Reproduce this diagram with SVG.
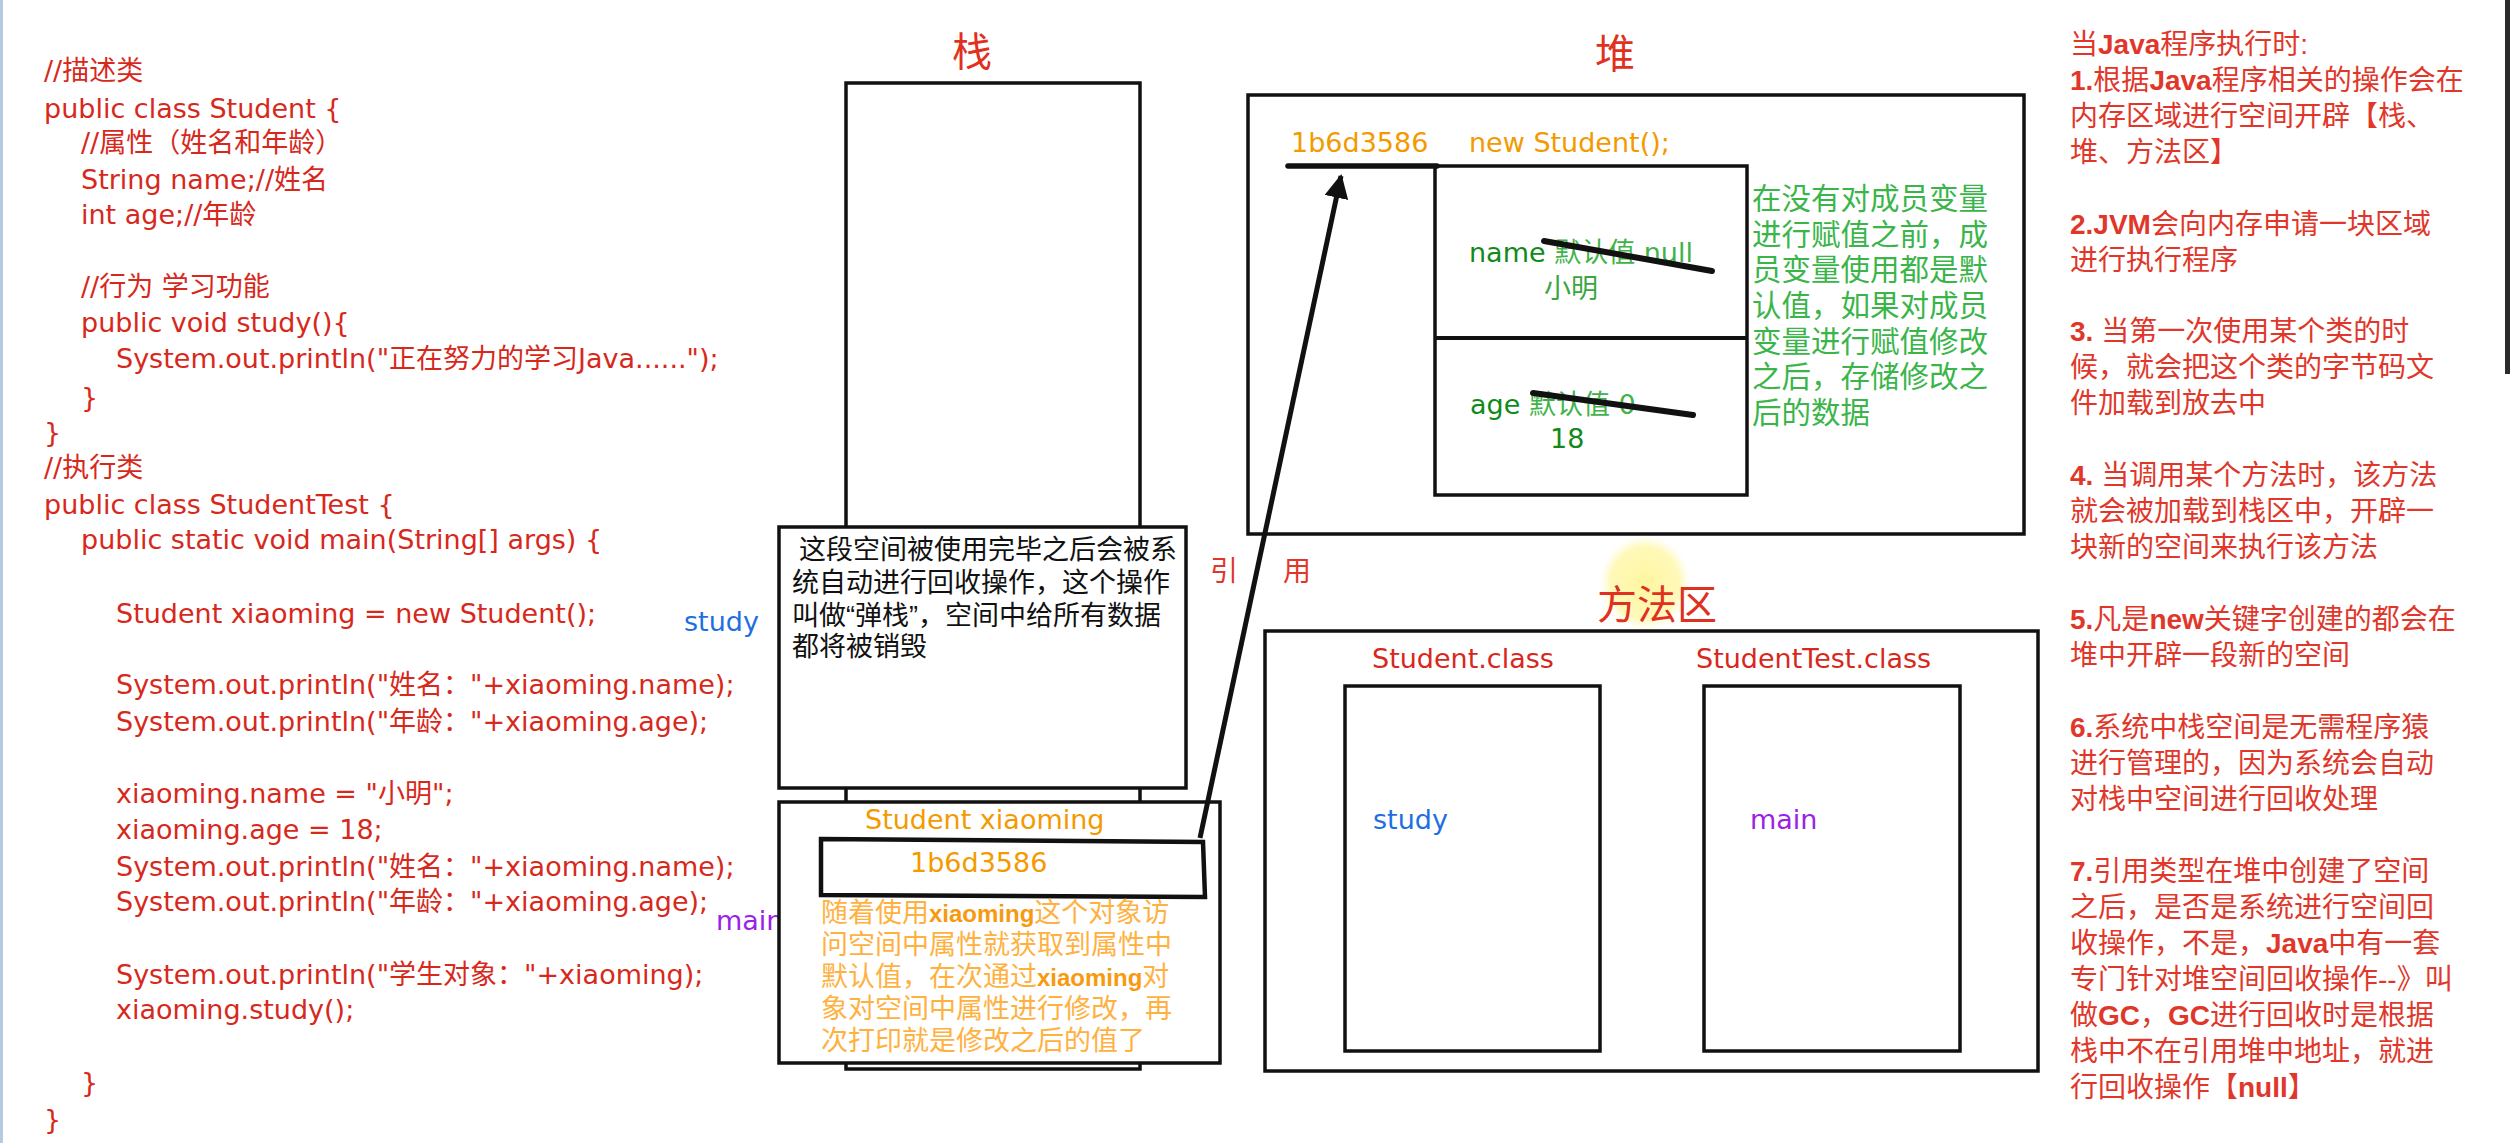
<svg xmlns="http://www.w3.org/2000/svg" width="2510" height="1143" viewBox="0 0 2510 1143">
<style>
.code{font-family:"DejaVu Sans","Noto Sans CJK SC",sans-serif;font-size:27px;fill:#d7281c}
.lat{font-family:"DejaVu Sans","Noto Sans CJK SC",sans-serif;font-size:27px}
.cjk{font-family:"Liberation Sans","Noto Sans CJK SC",sans-serif}
.note{font-family:"Liberation Sans","Noto Sans CJK SC",sans-serif;font-size:28px;fill:#e0372a}
.b{font-family:"Liberation Sans","Noto Sans CJK SC",sans-serif;font-weight:bold}
.box{fill:#fff;stroke:#111;stroke-width:3.5}
.title{font-family:"Liberation Serif","Noto Sans CJK SC",serif;font-size:40px;fill:#e0301e;text-anchor:middle}
.strike{stroke:#111;stroke-width:6;stroke-linecap:round}
</style>
<defs>
<marker id="arrow" markerUnits="userSpaceOnUse" markerWidth="30" markerHeight="30" refX="22" refY="12" orient="auto">
<path d="M0,0 L24,12 L0,24 Z" fill="#111"/>
</marker>
<radialGradient id="glow">
<stop offset="0" stop-color="#fff59a" stop-opacity="0.95"/>
<stop offset="0.75" stop-color="#fff7a8" stop-opacity="0.8"/>
<stop offset="1" stop-color="#fffbd0" stop-opacity="0"/>
</radialGradient>
</defs>
<rect x="0" y="0" width="2510" height="1143" fill="#fff"/>
<line x1="1.5" y1="0" x2="1.5" y2="1143" stroke="#b5cbe3" stroke-width="3"/>
<rect x="2505" y="0" width="5" height="374" fill="#2b2b2b"/>

<g id="code">
<text class="code" x="44" y="80">//描述类</text>
<text class="code" x="44" y="118">public class Student {</text>
<text class="code" x="81" y="152">//属性（姓名和年龄）</text>
<text class="code" x="81" y="189">String name;//姓名</text>
<text class="code" x="81" y="224">int age;//年龄</text>
<text class="code" x="81" y="296">//行为 学习功能</text>
<text class="code" x="81" y="332">public void study(){</text>
<text class="code" x="116" y="368">System.out.println("正在努力的学习Java......");</text>
<text class="code" x="81" y="407">}</text>
<text class="code" x="44" y="442">}</text>
<text class="code" x="44" y="477">//执行类</text>
<text class="code" x="44" y="514">public class StudentTest {</text>
<text class="code" x="81" y="549">public static void main(String[] args) {</text>
<text class="code" x="116" y="623">Student xiaoming = new Student();</text>
<text class="code" x="116" y="694">System.out.println("姓名："+xiaoming.name);</text>
<text class="code" x="116" y="731">System.out.println("年龄："+xiaoming.age);</text>
<text class="code" x="116" y="803">xiaoming.name = "小明";</text>
<text class="code" x="116" y="839">xiaoming.age = 18;</text>
<text class="code" x="116" y="876">System.out.println("姓名："+xiaoming.name);</text>
<text class="code" x="116" y="911">System.out.println("年龄："+xiaoming.age);</text>
<text class="code" x="116" y="984">System.out.println("学生对象："+xiaoming);</text>
<text class="code" x="116" y="1019">xiaoming.study();</text>
<text class="code" x="81" y="1092">}</text>
<text class="code" x="44" y="1129">}</text>
<text class="lat" x="684" y="631" fill="#1f6fe0">study</text>
<text class="lat" x="716" y="930" fill="#9a22e8">main</text>
</g>

<g id="stack">
<text class="title" x="972" y="66">栈</text>
<rect class="box" x="846" y="83" width="294" height="986"/>
</g>

<g id="stack-frame-study">
<rect class="box" x="779" y="527" width="407" height="261"/>
<text class="cjk" font-size="27" fill="#111">
<tspan x="799" y="559">这段空间被使用完毕之后会被系</tspan>
<tspan x="792" y="592">统自动进行回收操作，这个操作</tspan>
<tspan x="792" y="625">叫做“弹栈”，空间中给所有数据</tspan>
<tspan x="792" y="656">都将被销毁</tspan>
</text>
</g>

<g id="stack-frame-main">
<rect class="box" x="779" y="802" width="441" height="261"/>
<text class="lat" x="865" y="829" fill="#f39a00">Student xiaoming</text>
<polygon points="821,839 1203,842 1205,897 821,895" fill="#fff" stroke="#111" stroke-width="4.5"/>
<text class="lat" x="910" y="872" fill="#f39a00">1b6d3586</text>
<text class="cjk" font-size="27" fill="#ffb13f">
<tspan x="821" y="922">随着使用<tspan class="b" font-size="24" fill="#f79a10">xiaoming</tspan>这个对象访</tspan>
<tspan x="821" y="954">问空间中属性就获取到属性中</tspan>
<tspan x="821" y="986">默认值，在次通过<tspan class="b" font-size="24" fill="#f79a10">xiaoming</tspan>对</tspan>
<tspan x="821" y="1018">象对空间中属性进行修改，再</tspan>
<tspan x="821" y="1050">次打印就是修改之后的值了</tspan>
</text>
</g>

<g id="heap">
<text class="title" x="1615" y="68">堆</text>
<rect class="box" x="1248" y="95" width="776" height="439"/>
</g>

<g id="heap-object">
<text class="lat" x="1291" y="152" fill="#f39a00">1b6d3586</text>
<text class="lat" x="1469" y="152" fill="#f39a00">new Student();</text>
<rect class="box" x="1435" y="166" width="312" height="329"/>
<line x1="1435" y1="338" x2="1747" y2="338" stroke="#111" stroke-width="4"/>
<line x1="1288" y1="166" x2="1437" y2="166" stroke="#111" stroke-width="5.5" stroke-linecap="round"/>
<text class="lat" x="1469" y="262"><tspan fill="#118a1a">name</tspan><tspan fill="#3fb34a"> <tspan class="cjk">默认值</tspan> null</tspan></text>
<line class="strike" x1="1544" y1="241" x2="1712" y2="271"/>
<text class="cjk" font-size="27" x="1544" y="298" fill="#3aa640">小明</text>
<text class="lat" x="1470" y="414"><tspan fill="#118a1a">age</tspan><tspan fill="#3fb34a"> <tspan class="cjk">默认值</tspan> 0</tspan></text>
<line class="strike" x1="1533" y1="393" x2="1693" y2="415"/>
<text class="lat" x="1550" y="448" fill="#118a1a">18</text>
<text class="cjk" font-size="29.5" fill="#3ab54a">
<tspan x="1752" y="209">在没有对成员变量</tspan>
<tspan x="1752" y="245">进行赋值之前，成</tspan>
<tspan x="1752" y="280">员变量使用都是默</tspan>
<tspan x="1752" y="316">认值，如果对成员</tspan>
<tspan x="1752" y="352">变量进行赋值修改</tspan>
<tspan x="1752" y="387">之后，存储修改之</tspan>
<tspan x="1752" y="423">后的数据</tspan>
</text>
</g>

<g id="method-area">
<ellipse cx="1645" cy="583" rx="46" ry="48" fill="url(#glow)"/>
<text class="title" x="1657" y="619" fill="#e8461c">方法区</text>
<rect class="box" x="1265" y="631" width="773" height="440"/>
</g>

<g id="student-class">
<text class="lat" x="1372" y="668" fill="#d7281c">Student.class</text>
<rect class="box" x="1345" y="686" width="255" height="365"/>
<text class="lat" x="1373" y="829" fill="#1f6fe0">study</text>
</g>

<g id="studenttest-class">
<text class="lat" x="1696" y="668" fill="#d7281c">StudentTest.class</text>
<rect class="box" x="1704" y="686" width="256" height="365"/>
<text class="lat" x="1750" y="829" fill="#9a22e8">main</text>
</g>

<g id="connectors">
<line x1="1200" y1="838" x2="1341" y2="176" stroke="#111" stroke-width="5" marker-end="url(#arrow)"/>
<text class="cjk" font-size="28" fill="#e0372a" x="1210" y="581">引</text>
<text class="cjk" font-size="28" fill="#e0372a" x="1283" y="581">用</text>
</g>

<g id="notes">
<text class="note">
<tspan x="2070" y="54">当<tspan class="b">Java</tspan>程序执行时:</tspan>
<tspan x="2070" y="90"><tspan class="b">1.</tspan>根据<tspan class="b">Java</tspan>程序相关的操作会在</tspan>
<tspan x="2070" y="126">内存区域进行空间开辟【栈、</tspan>
<tspan x="2070" y="162">堆、方法区】</tspan>
<tspan x="2070" y="234"><tspan class="b">2.JVM</tspan>会向内存申请一块区域</tspan>
<tspan x="2070" y="270">进行执行程序</tspan>
<tspan x="2070" y="341"><tspan class="b">3.</tspan> 当第一次使用某个类的时</tspan>
<tspan x="2070" y="377">候，就会把这个类的字节码文</tspan>
<tspan x="2070" y="413">件加载到放去中</tspan>
<tspan x="2070" y="485"><tspan class="b">4.</tspan> 当调用某个方法时，该方法</tspan>
<tspan x="2070" y="521">就会被加载到栈区中，开辟一</tspan>
<tspan x="2070" y="557">块新的空间来执行该方法</tspan>
<tspan x="2070" y="629"><tspan class="b">5.</tspan>凡是<tspan class="b">new</tspan>关键字创建的都会在</tspan>
<tspan x="2070" y="665">堆中开辟一段新的空间</tspan>
<tspan x="2070" y="737"><tspan class="b">6.</tspan>系统中栈空间是无需程序猿</tspan>
<tspan x="2070" y="773">进行管理的，因为系统会自动</tspan>
<tspan x="2070" y="809">对栈中空间进行回收处理</tspan>
<tspan x="2070" y="881"><tspan class="b">7.</tspan>引用类型在堆中创建了空间</tspan>
<tspan x="2070" y="917">之后，是否是系统进行空间回</tspan>
<tspan x="2070" y="953">收操作，不是，<tspan class="b">Java</tspan>中有一套</tspan>
<tspan x="2070" y="989">专门针对堆空间回收操作--》叫</tspan>
<tspan x="2070" y="1025">做<tspan class="b">GC</tspan>，<tspan class="b">GC</tspan>进行回收时是根据</tspan>
<tspan x="2070" y="1061">栈中不在引用堆中地址，就进</tspan>
<tspan x="2070" y="1097">行回收操作【<tspan class="b">null</tspan>】</tspan>
</text>
</g>
</svg>
